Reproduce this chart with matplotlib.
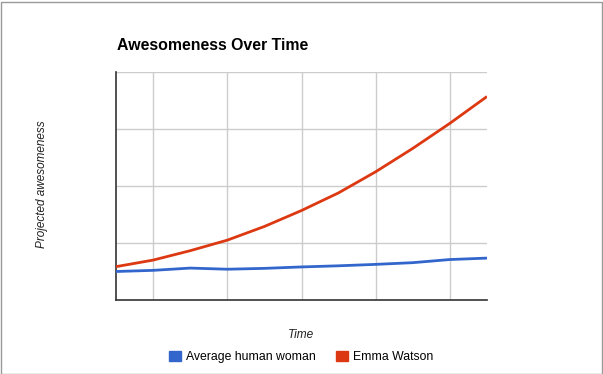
import matplotlib.pyplot as plt
from matplotlib.patches import Patch, Rectangle

plt.rcParams['font.family'] = ['Liberation Sans', 'DejaVu Sans']

# data (arbitrary units, gridline spacing = 1)
time = [0, 1, 2, 3, 4, 5, 6, 7, 8, 9, 10]
average_woman = [0.50, 0.52, 0.56, 0.54, 0.555, 0.58, 0.60, 0.625, 0.655, 0.71, 0.735]
emma_watson = [0.585, 0.70, 0.865, 1.05, 1.29, 1.57, 1.88, 2.25, 2.66, 3.10, 3.57]

series_names = ['Average human woman', 'Emma Watson']
colors = ['#3366cc', '#dc3912']

W, H = 603, 374
fig = plt.figure(figsize=(W / 100, H / 100), dpi=100)
fig.patch.set_facecolor('white')

# plot area in pixels: left 116, right 487, top 72, bottom 300
ax = fig.add_axes([116 / W, 1 - 300 / H, (487 - 116) / W, (300 - 72) / H])
ax.plot(time, average_woman, color=colors[0], lw=2, solid_capstyle='butt', zorder=3)
ax.plot(time, emma_watson, color=colors[1], lw=2, solid_capstyle='butt', zorder=3)

ax.set_xlim(0, 10)
ax.set_ylim(0, 4)
ax.set_xticks([1, 3, 5, 7, 9])
ax.set_yticks([1, 2, 3, 4])
ax.grid(True, color='#cccccc', lw=1)
ax.tick_params(length=0, labelbottom=False, labelleft=False)
for side in ['top', 'right']:
    ax.spines[side].set_visible(False)
for side in ['left', 'bottom']:
    ax.spines[side].set_color('#333333')
    ax.spines[side].set_linewidth(1.2)

fig.text(117 / W, 1 - 45 / H, 'Awesomeness Over Time', fontsize=11.4,
         fontweight='bold', ha='left', va='center')
fig.text(42 / W, 1 - 184 / H, 'Projected awesomeness', fontsize=8.5,
         style='italic', rotation=90, ha='center', va='center', color='#222222')
fig.text(301 / W, 1 - 335 / H, 'Time', fontsize=8.6, style='italic',
         ha='center', va='center', color='#222222')

handles = [Patch(facecolor=c, edgecolor=c) for c in colors]
fig.legend(handles, series_names, loc='center', bbox_to_anchor=(301 / W, 1 - 357 / H),
           ncol=2, frameon=False, fontsize=8.8, handlelength=0.95, handleheight=0.95,
           handletextpad=0.4, columnspacing=1.7, borderpad=0)

# thin grey frame round the whole chart
fig.add_artist(Rectangle((0.5 / W, 0.5 / H), 1 - 2 / W, 1 - 2 / H,
                         transform=fig.transFigure, fill=False,
                         edgecolor='#999999', lw=1))

fig.savefig('out.png', dpi=100)
